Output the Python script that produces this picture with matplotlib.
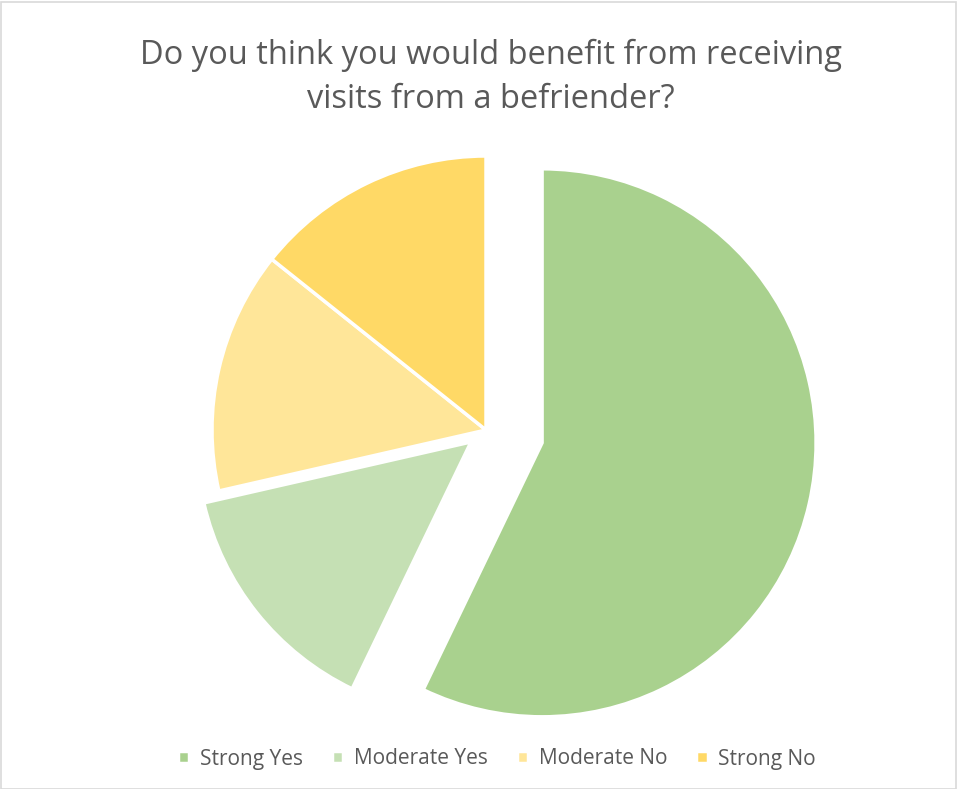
"""Pie chart: would respondents benefit from befriender visits."""

import matplotlib.pyplot as plt
from matplotlib.patches import Rectangle

labels = ["Strong Yes", "Moderate Yes", "Moderate No", "Strong No"]
counts = [4, 1, 1, 1]
colors = ["#A9D18E", "#C5E0B4", "#FFE699", "#FFD966"]
explode = [0.21, 0.07, 0.0, 0.0]

W, H = 957, 789
cx, cy, R = 486, 430, 274  # pie centre / radius in pixels

fig = plt.figure(figsize=(W / 100, H / 100), dpi=100)
fig.patches.append(Rectangle((0.5 / W, 0.5 / H), 1 - 2 / W, 1 - 2 / H,
                             transform=fig.transFigure, fill=False,
                             edgecolor="#D9D9D9", lw=1.2))

ax = fig.add_axes([0, 0, 1, 1])
wedges, _ = ax.pie(counts, colors=colors, explode=explode, startangle=90,
                   counterclock=False, radius=1,
                   wedgeprops=dict(edgecolor="white", linewidth=2.5))
ax.set_aspect("auto")
ax.set_xlim(-cx / R, (W - cx) / R)
ax.set_ylim(-(H - cy) / R, cy / R)
ax.axis("off")

title_x = 491 / W
fig.text(title_x, 1 - 55 / H, "Do you think you would benefit from receiving",
         ha="center", va="center", fontsize=23.5, color="#595959",
         family="Open Sans")
fig.text(title_x, 1 - 100 / H, "visits from a befriender?",
         ha="center", va="center", fontsize=23.5, color="#595959",
         family="Open Sans")

fig.legend(wedges, labels, loc="center", bbox_to_anchor=(0.519, 1 - 759 / H),
           ncol=4, frameon=False, handlelength=0.55, handleheight=0.55,
           handletextpad=0.5, columnspacing=1.4,
           prop=dict(family="Open Sans", size=15), labelcolor="#595959")

fig.savefig("out.png", dpi=100)
